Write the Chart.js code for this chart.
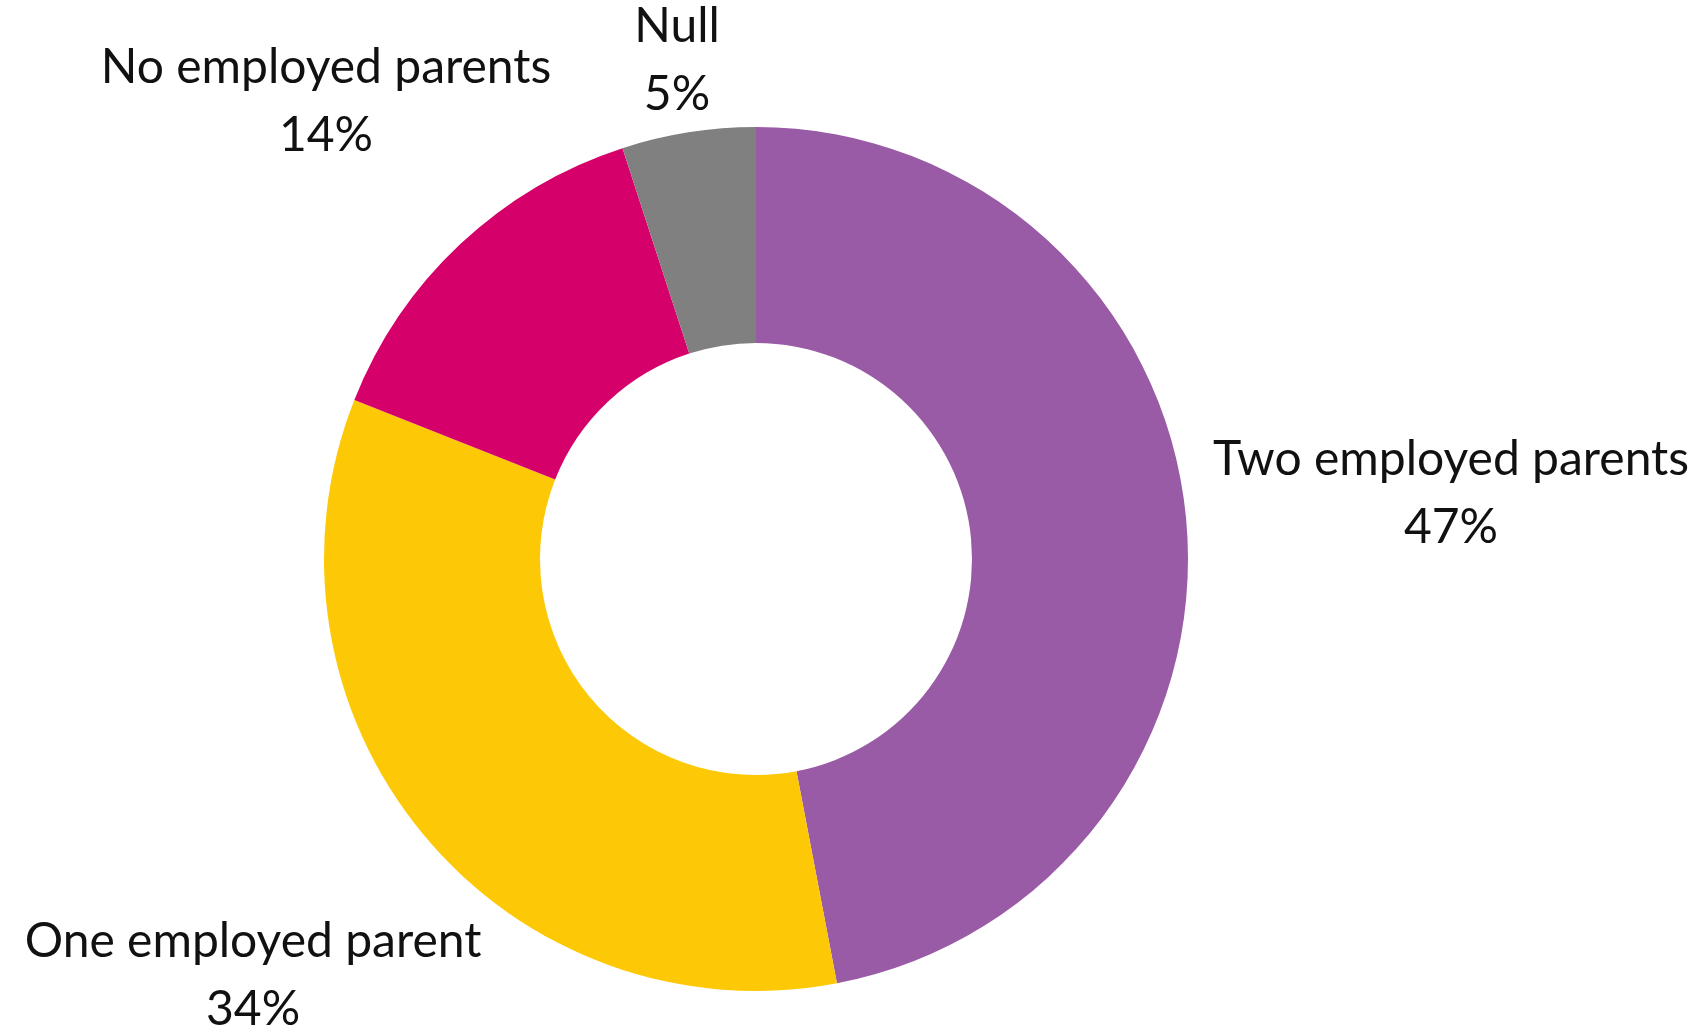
<!DOCTYPE html>
<html>
<head>
<meta charset="utf-8">
<script src="https://cdn.jsdelivr.net/npm/chart.js@4/dist/chart.umd.min.js"></script>
<style>
  html, body { margin: 0; padding: 0; background: #ffffff; }
  #wrap { width: 1698px; height: 1029px; position: relative; }
</style>
</head>
<body>
<div id="wrap"><canvas id="chart"></canvas></div>
<script>
const categories = ['Two employed parents', 'One employed parent', 'No employed parents', 'Null'];
const shares = [47, 34, 14, 5];
const sliceColors = ['#995ba6', '#fdc907', '#d6006b', '#808080'];

// how far out each label sits, as a multiple of the outer radius
const labelReach = [1.616, 1.511, 1.454, 1.169];

const outsideLabels = {
    id: 'outsideLabels',
    afterDraw(chart) {
        const ctx = chart.ctx;
        const arcs = chart.getDatasetMeta(0).data;
        ctx.save();
        ctx.font = '48px Lato, "Open Sans", sans-serif';
        ctx.fillStyle = '#111111';
        ctx.textAlign = 'center';
        ctx.textBaseline = 'middle';
        arcs.forEach((arc, i) => {
            const p = arc.getProps(['x', 'y', 'startAngle', 'endAngle', 'outerRadius'], true);
            const mid = (p.startAngle + p.endAngle) / 2;
            const r = p.outerRadius * labelReach[i];
            const x = p.x + Math.cos(mid) * r;
            const y = p.y + Math.sin(mid) * r;
            ctx.fillText(categories[i], x, y - 34);
            ctx.fillText(shares[i] + '%', x, y + 34);
        });
        ctx.restore();
    }
};

new Chart(document.getElementById('chart'), {
    type: 'doughnut',
    data: {
        labels: categories,
        datasets: [{
            data: shares,
            backgroundColor: sliceColors,
            borderWidth: 0,
            hoverOffset: 0
        }]
    },
    options: {
        responsive: true,
        maintainAspectRatio: false,
        animation: false,
        cutout: '50%',
        layout: { padding: { left: 324, right: 510, top: 127, bottom: 38 } },
        plugins: {
            legend: { display: false },
            tooltip: { enabled: false }
        }
    },
    plugins: [outsideLabels]
});
</script>
</body>
</html>
